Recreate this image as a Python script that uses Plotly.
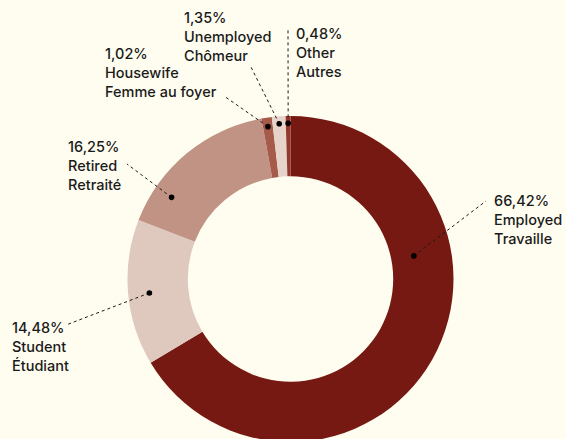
import plotly.graph_objects as go
import numpy as np

# Dados
categorias = ["Employed", "Student", "Retired", "Housewife", "Unemployed", "Other"]
categorias_fr = ["Travaille", "Étudiant", "Retraité", "Femme au foyer", "Chômeur", "Autres"]
percentuais = [66.42, 14.48, 16.25, 1.02, 1.35, 0.48]
cores = ["#761912", "#dfc8bd", "#c19384", "#a65b4a", "#e6d3ca", "#93362b"]

# Layout (pixels) - a figura é um pouco mais alta que a janela, o fundo do anel fica cortado
W, H = 566, 446
cx, cy, R = 290.5, 279, 163
# posição do ponto dentro da fatia (fração do ângulo, fração do raio)
ponto_ang = [0.332, 0.484, 0.226, 0.5, 0.5, 0.5]
ponto_raio = [0.77, 0.87, 0.885, 0.945, 0.955, 0.955]
# fim da linha pontilhada e posição do texto (x esquerda, y primeira linha)
fim_linha = [(486, 201), (66, 325), (127, 164), (224, 96), (250, 65), (288, 29)]
pos_texto = [(492, 200), (10, 327), (66, 146), (103, 53), (182, 17), (294, 33)]

fig = go.Figure(go.Pie(
    labels=categorias, values=percentuais, hole=0.63,
    sort=False, direction='clockwise', rotation=0,
    marker=dict(colors=cores, line=dict(width=0)),
    textinfo='none', hoverinfo='label+percent', showlegend=False,
    domain=dict(x=[(cx - R) / W, (cx + R) / W], y=[1 - (cy + R) / H, 1 - (cy - R) / H]),
))

px_x = lambda x: x / W
px_y = lambda y: 1 - y / H

total = sum(percentuais)
inicio = np.concatenate([[0], np.cumsum(percentuais)[:-1]]) / total
shapes, annotations = [], []
for i, p in enumerate(percentuais):
    ang = 2 * np.pi * (inicio[i] + ponto_ang[i] * p / total)
    r = R * ponto_raio[i]
    dx, dy = cx + r * np.sin(ang), cy - r * np.cos(ang)
    ex, ey = fim_linha[i]
    shapes.append(dict(type='line', xref='paper', yref='paper',
                       x0=px_x(dx), y0=px_y(dy), x1=px_x(ex), y1=px_y(ey),
                       line=dict(color='#1a1a1a', width=1, dash='dot')))
    shapes.append(dict(type='circle', xref='paper', yref='paper',
                       x0=px_x(dx - 2.8), y0=px_y(dy - 2.8), x1=px_x(dx + 2.8), y1=px_y(dy + 2.8),
                       fillcolor='#000000', line=dict(width=0)))
    tx, ty = pos_texto[i]
    texto = f"{p:.2f}%".replace('.', ',') + f"<br>{categorias[i]}<br>{categorias_fr[i]}"
    annotations.append(dict(text=texto, xref='paper', yref='paper', x=px_x(tx), y=px_y(ty - 10),
                            xanchor='left', yanchor='top', align='left', showarrow=False,
                            font=dict(family='Inter', size=14.5, color='#1a1a1a', weight=500)))

fig.update_layout(
    width=W, height=H, margin=dict(l=0, r=0, t=0, b=0),
    paper_bgcolor='#fffdf0', plot_bgcolor='#fffdf0',
    shapes=shapes, annotations=annotations,
)
fig.write_html("out.html", config={'displayModeBar': False},
               post_script="document.body.style.margin='0';document.body.style.overflow='hidden';")
